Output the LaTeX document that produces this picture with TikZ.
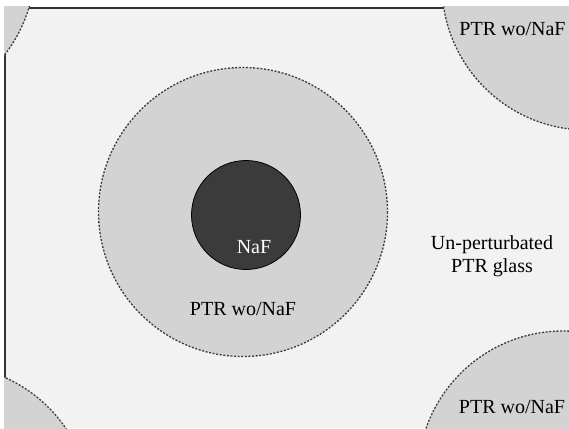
\documentclass[tikz,border=0pt]{standalone}
\usepackage{fontspec}
\setmainfont{Liberation Serif}
\definecolor{bgcol}{HTML}{F2F2F2}
\definecolor{zonecol}{HTML}{D3D3D3}
\definecolor{corecol}{HTML}{3B3B3B}
\definecolor{dashcol}{HTML}{3C3C3C}
\begin{document}
\begin{tikzpicture}[x=1pt,y=-1pt,
  zone/.style={fill=zonecol,draw=dashcol,line width=1.3pt,dash pattern=on 2pt off 1.6pt},
  core/.style={fill=corecol,draw=black,line width=0.8pt},
  lbl/.style={font=\fontsize{20}{23}\selectfont,text=black,inner sep=0pt,align=center},
  frameline/.style={draw=black!80,line width=2.4pt}]
\useasboundingbox (0,0) rectangle (569,428);
\fill[white] (0,0) rectangle (569,428);
\fill[bgcol] (5,8) rectangle (569,428);
\draw[frameline] (5,428) -- (5,8) -- (569,8);
\begin{scope}
  \clip (4,7) rectangle (569,428);
  \draw[zone] (-110,-34) circle[radius=145];
  \draw[zone] (587,-15) circle[radius=145];
  \draw[zone] (563,476) circle[radius=145];
  \draw[zone] (-54,510) circle[radius=145];
  \draw[zone] (243,212) circle[radius=144.5];
  \draw[core] (246,215) circle[radius=54.5];
\end{scope}
\node[lbl,text=white] (naf) at (254,247) {NaF};
\node[lbl] (ptrc) at (243,309) {PTR wo/NaF};
\node[lbl] (ptrtr) at (512.5,29) {PTR wo/NaF};
\node[lbl] (ptrbr) at (512,407) {PTR wo/NaF};
\node[lbl] (glass) at (492,256) {Un-perturbated\\PTR glass};
\end{tikzpicture}
\end{document}
